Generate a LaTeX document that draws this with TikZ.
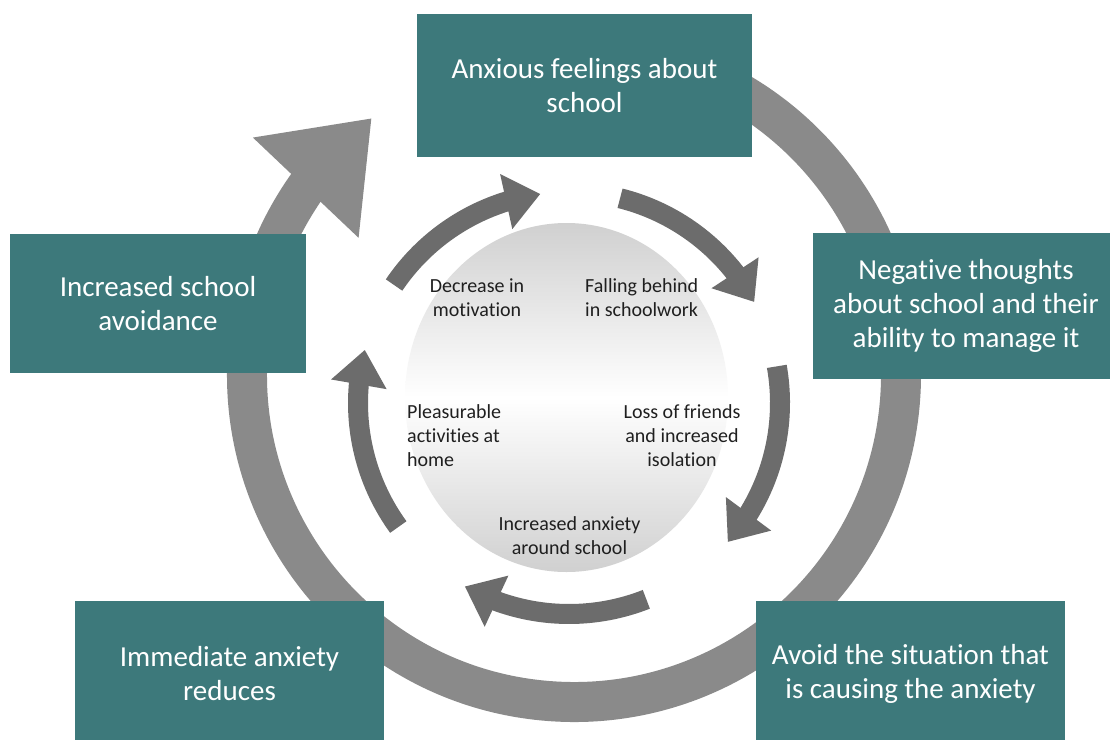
\documentclass[tikz,border=0pt]{standalone}
\usepackage{fontspec}
\setmainfont{Carlito}[Ligatures=NoCommon]
\usetikzlibrary{arrows.meta,bending,shapes.geometric}
\definecolor{boxteal}{RGB}{61,121,123}
\definecolor{ringgrey}{RGB}{138,138,138}
\definecolor{arrgrey}{RGB}{108,108,108}
\definecolor{discgrey}{RGB}{208,208,208}
\begin{document}
\begin{tikzpicture}[x=1pt,y=-1pt,
  ring/.style={draw=ringgrey, line width=40pt, -{Triangle[flex, width=139pt, length=96pt]}},
  inarr/.style={draw=arrgrey, line width=20pt, -{Triangle[flex, width=54pt, length=35pt]}},
  box/.style={fill=boxteal, text=white, font=\fontsize{29}{34}\selectfont, align=center, inner sep=0pt},
  lbl/.style={font=\fontsize{20}{24}\selectfont, text=black!88, inner sep=0pt}]
\useasboundingbox (0,0) rectangle (1110,739);
\fill[white] (0,0) rectangle (1110,739);
% central disc
\node[ellipse, minimum width=323pt, minimum height=349pt, inner sep=0pt,
  top color=discgrey, bottom color=discgrey, middle color=white] (disc) at (566.5,397.5) {};
% outer ring
\coordinate (oc) at (574,375);
\draw[ring] (oc) ++(85:327pt) arc[start angle=85, end angle=-231.8, radius=327pt];
% inner arrows
\coordinate (ic) at (569,403);
\draw[inarr] (ic) ++(146:211pt) arc[start angle=146, end angle=97.8, radius=211pt];
\draw[inarr] (ic) ++(76:211pt) arc[start angle=76, end angle=28.6, radius=211pt];
\draw[inarr] (ic) ++(10:211pt) arc[start angle=10, end angle=-41.2, radius=211pt];
\draw[inarr] (ic) ++(-68.5:211pt) arc[start angle=-68.5, end angle=-119.6, radius=211pt];
\draw[inarr] (ic) ++(216:211pt) arc[start angle=216, end angle=165.4, radius=211pt];
% boxes
\node[box, minimum width=335pt, minimum height=143pt] (top) at (584.5,85.5) {Anxious feelings about\\school};
\node[box, minimum width=296pt, minimum height=139pt] (left) at (158,303.5) {Increased school\\avoidance};
\node[box, minimum width=306pt, minimum height=146pt] (right) at (966,306) {Negative thoughts\\about school and their\\ability to manage it};
\node[box, minimum width=309pt, minimum height=146pt] (bl) at (229.5,674) {Immediate anxiety\\reduces};
\node[box, minimum width=309pt, minimum height=146pt] (br) at (910.5,674) {Avoid the situation that\\is causing the anxiety};
% inner labels
\node[lbl, align=center] (l1) at (477,298) {Decrease in\\motivation};
\node[lbl, align=left, anchor=west] (l2) at (585,298) {Falling behind\\in schoolwork};
\node[lbl, align=left, anchor=west] (l3) at (407,435.5) {Pleasurable\\activities at\\home};
\node[lbl, align=center] (l4) at (682,435.5) {Loss of friends\\and increased\\isolation};
\node[lbl, align=center] (l5) at (569.5,535.5) {Increased anxiety\\around school};
\end{tikzpicture}
\end{document}
